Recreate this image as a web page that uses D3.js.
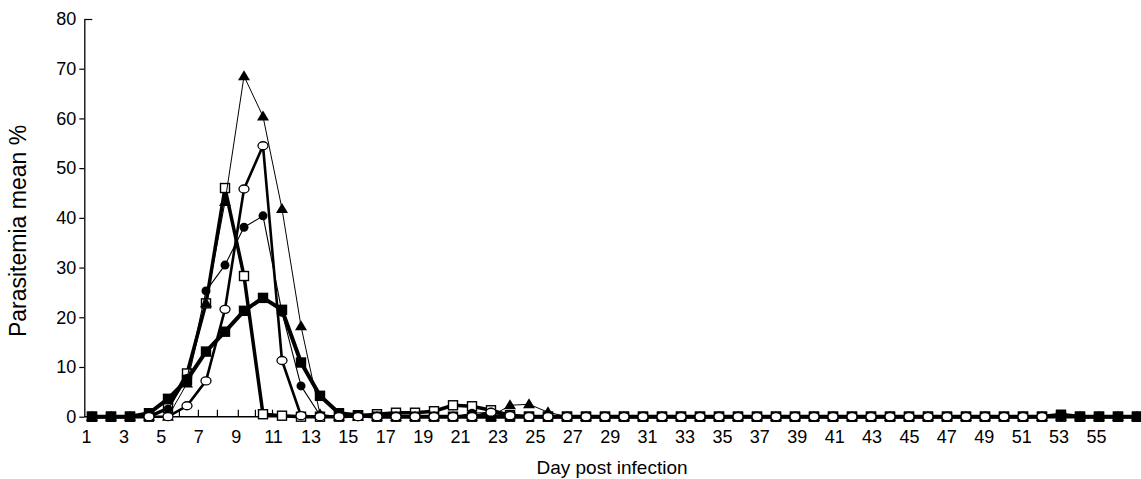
<!DOCTYPE html>
<html><head><meta charset="utf-8">
<script src="https://cdn.jsdelivr.net/npm/d3@7"></script>
<style>
body{margin:0;background:#fff}
svg{display:block}
text{font-family:"Liberation Sans",Arial,Helvetica,sans-serif;fill:#000}
</style>
</head><body>
<svg id="chart" width="1141" height="479"></svg>
<script>
// ---------- data ----------
const days = [1,2,3,4,5,6,7,8,9,10,11,12,13,14,15,16,17,18,19,20,21,22,23,24,25,26,27,28,
  29,30,31,32,33,34,35,36,37,38,39,40,41,42,43,44,45,46,47,48,49,50,51,52,53,54,55,56];
const xTickLabels = [1,3,5,7,9,11,13,15,17,19,21,23,25,27,29,31,33,35,37,39,41,43,45,47,49,51,53,55];
const yTickValues = [0,10,20,30,40,50,60,70,80];
const minorTicks = [5.6,6.6,7.6,8.7,9.6,10.5];

const filledSquares = [0,0,0,0.7,3.6,7.4,13.1,17.1,21.3,23.9,21.5,10.9,4.2,0.7,0.3,
  0,0,0,0,0,0,0,0,0,0,0,0,0,0,0,0,0,0,0,0,0,0,0,0,0,0,0,0,0,0,0,0,0,0,0,0,
  0.4,0,0,0,0];
const openSquares = [0,0,0,0,1.7,8.7,22.8,46,28.3,0.5,0.2,0,0,0,0.2,0.5,0.8,0.8,1.1,2.3,2.1,1.3,0.3,
  0,0,0,0,0,0,0,0,0,0,0,0,0,0,0,0,0,0,0,0,0,0,0,0,0,0,0,0,0,0,0,0,0];
const openCircles = [null,null,null,0,0,2.2,7.2,21.6,45.8,54.5,11.3,0.2,0,
  0,0,0,0,0,0,0,0,0.9,0.2,
  0,0,0,0,0,0,0,0,0,0,0,0,0,0,0,0,0,0,0,0,0,0,0,0,0,0,0,0,
  null,null,null,null,null];
const filledCircles = [0,0,0,0.3,1.5,7.7,25.3,30.5,38.1,40.4,21,6.2,0.3,
  0,0,0,0,0,0,0,0.7,0.9,0.3,
  0,0,0,0,0,0,0,0,0,0,0,0,0,0,0,0,0,0,0,0,0,0,0,0,0,0,0,0,0,0,0,0,0];
const triangles = [0,0,0,0,0,6.7,22.8,43.2,68.5,60.4,41.8,18.2,0.5,
  0,0,0,0,0,0,0,0,0,2.3,2.5,0.9,
  0,0,0,0,0,0,0,0,0,0,0,0,0,0,0,0,0,0,0,0,0,0,0,0,0,0,0,0,0,0,0];

const yTitle = "Parasitemia mean %";
const xTitle = "Day post infection";

// ---------- layout ----------
const W = 1141, H = 479;
const svg = d3.select("#chart");
const x = d3.scaleLinear().domain([1, 56]).range([92, 1137]);      // data positions
const xLab = d3.scaleLinear().domain([1, 55]).range([86, 1096]);   // printed day labels
const y = d3.scaleLinear().domain([0, 80]).range([416.7, 19]);
const axisX0 = 84.3;

// ---------- axes ----------
const yAxis = svg.append("g").attr("transform", `translate(${axisX0},0)`)
  .call(d3.axisLeft(y).tickValues(yTickValues).tickSize(5).tickSizeOuter(0).tickPadding(3));
yAxis.select(".domain").attr("stroke", "#000").attr("stroke-width", 1.3);
yAxis.selectAll(".tick line").attr("stroke", "#000").attr("stroke-width", 1.2)
  .attr("x2", d => d === 80 ? 8 : -5);
yAxis.selectAll(".tick text").attr("font-size", 18).attr("fill", "#000")
  .style("font-family", '"Liberation Sans",Arial,sans-serif');

const xAxis = svg.append("g").attr("transform", `translate(0,${y(0)})`)
  .call(d3.axisBottom(xLab).tickValues(xTickLabels).tickSize(0).tickPadding(14).tickFormat(d3.format("d")));
xAxis.select(".domain").remove();
xAxis.selectAll(".tick text").attr("font-size", 18).attr("fill", "#000")
  .style("font-family", '"Liberation Sans",Arial,sans-serif');

svg.append("line").attr("x1", axisX0).attr("x2", W).attr("y1", y(0)).attr("y2", y(0))
  .attr("stroke", "#000").attr("stroke-width", 1.6);
svg.append("g").selectAll("line").data(minorTicks).join("line")
  .attr("x1", d => x(d)).attr("x2", d => x(d)).attr("y1", y(0)).attr("y2", y(0) - 7)
  .attr("stroke", "#000").attr("stroke-width", 1.2);

// titles
svg.append("text").attr("transform", `translate(26,231) rotate(-90)`)
  .attr("text-anchor", "middle").attr("font-size", 23).text(yTitle);
svg.append("text").attr("x", 612).attr("y", 474)
  .attr("text-anchor", "middle").attr("font-size", 19).text(xTitle);

// ---------- series ----------
const series = [
  {name: "openSquares", values: openSquares, width: 3.5, marker: "square", fill: "#fff"},
  {name: "filledCircles", values: filledCircles, width: 1.1, marker: "circle", fill: "#000"},
  {name: "filledSquares", values: filledSquares, width: 4, marker: "square", fill: "#000"},
  {name: "triangles", values: triangles, width: 1, marker: "triangle", fill: "#000"},
  {name: "openCircles", values: openCircles, width: 2.6, marker: "ellipse", fill: "#fff"}
];

const line = d3.line().defined(d => d.v != null).x(d => x(d.day)).y(d => y(d.v));

series.forEach(s => {
  const pts = days.map((day, i) => ({day, v: s.values[i]}));
  const g = svg.append("g").attr("class", s.name);
  g.append("path").datum(pts).attr("d", line).attr("fill", "none")
    .attr("stroke", "#000").attr("stroke-width", s.width).attr("stroke-linejoin", "round");
  const valid = pts.filter(d => d.v != null);
  if (s.marker === "square") {
    g.selectAll("rect").data(valid).join("rect")
      .attr("x", d => x(d.day) - 4.5).attr("y", d => y(d.v) - 4.5)
      .attr("width", 9).attr("height", 9)
      .attr("fill", s.fill).attr("stroke", "#000").attr("stroke-width", 1.4);
  } else if (s.marker === "triangle") {
    g.selectAll("path.m").data(valid).join("path").attr("class", "m")
      .attr("d", d => { const cx = x(d.day), cy = y(d.v);
        return `M${cx},${cy - 6}L${cx + 6},${cy + 4}L${cx - 6},${cy + 4}Z`; })
      .attr("fill", "#000");
  } else if (s.marker === "circle") {
    g.selectAll("circle").data(valid).join("circle")
      .attr("cx", d => x(d.day)).attr("cy", d => y(d.v)).attr("r", 4.5).attr("fill", "#000");
  } else {
    g.selectAll("ellipse").data(valid).join("ellipse")
      .attr("cx", d => x(d.day)).attr("cy", d => y(d.v)).attr("rx", 5).attr("ry", 4)
      .attr("fill", "#fff").attr("stroke", "#000").attr("stroke-width", 1.3);
  }
});
</script>
</body></html>
